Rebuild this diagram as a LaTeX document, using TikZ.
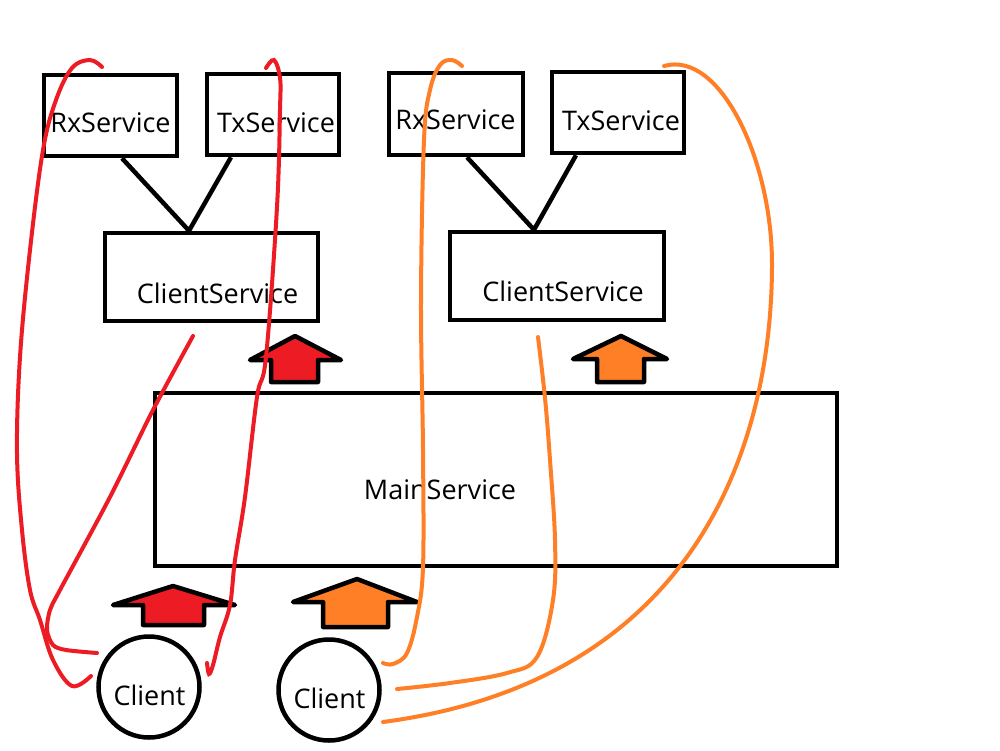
\documentclass[tikz,border=0pt]{standalone}
\usepackage{fontspec}
\setmainfont{Open Sans}
\usetikzlibrary{calc}
\definecolor{paintred}{HTML}{ED1C24}
\definecolor{paintorange}{HTML}{FF7F27}
\tikzset{
  svcbox/.style={draw=black, line width=4.5pt, inner sep=0pt},
  svctext/.style={anchor=base, inner sep=0pt, font=\fontsize{27}{32}\selectfont},
  clientnode/.style={draw=black, circle, line width=4.5pt, inner sep=0pt, minimum size=101pt},
  link/.style={draw=black, line width=4.5pt},
  upblock/.style={draw=black, line width=4.5pt, line join=round},
  redtrace/.style={draw=paintred, line width=4pt, line cap=round},
  orangetrace/.style={draw=paintorange, line width=4pt, line cap=round}
}
\begin{document}
\begin{tikzpicture}[x=1pt, y=-1pt]
    \useasboundingbox[fill=white] (0,0) rectangle (1000,750);
    % left group
    \node[svcbox, minimum width=133pt, minimum height=81pt] (lrx) at (110.5,115.5) {};
    \node[svcbox, minimum width=132pt, minimum height=81pt] (ltx) at (273,114.5) {};
    \node[svcbox, minimum width=213pt, minimum height=88pt] (lcs) at (211.5,277) {};
    \node[svctext] (lrxtext) at (110.5,132) {RxService};
    \node[svctext] (ltxtext) at (276,132) {TxService};
    \node[svctext] (lcstext) at (217.5,303) {ClientService};
    \draw[link] ([xshift=11.5pt]lrx.south) -- ([xshift=-22.5pt]lcs.north) -- ([xshift=-42pt]ltx.south);
    % right group
    \node[svcbox, minimum width=134pt, minimum height=82pt] (rrx) at (456,114) {};
    \node[svcbox, minimum width=132pt, minimum height=81pt] (rtx) at (618,112.5) {};
    \node[svcbox, minimum width=214pt, minimum height=88pt] (rcs) at (557,276) {};
    \node[svctext] (rrxtext) at (455.5,129) {RxService};
    \node[svctext] (rtxtext) at (621,130) {TxService};
    \node[svctext] (rcstext) at (563,301) {ClientService};
    \draw[link] ([xshift=11pt]rrx.south) -- ([xshift=-23pt]rcs.north) -- ([xshift=-42pt]rtx.south);
    % main service
    \node[svcbox, minimum width=682pt, minimum height=173pt] (main) at (496,479.5) {};
    \node[svctext] (maintext) at (440,499) {MainService};
    % clients
    \node[clientnode] (lclient) at (149,687) {};
    \node[clientnode] (rclient) at (329,690) {};
    \node[svctext] (lclienttext) at (149.5,705) {Client};
    \node[svctext] (rclienttext) at (329.5,708) {Client};
    % block arrows
    \draw[upblock, fill=paintred] (250,360) -- (295,336) -- (341,360) -- (318,360) -- (318,382) -- (271,382) -- (271,360) -- cycle;
    \draw[upblock, fill=paintorange] (573,359) -- (621,336) -- (667,359) -- (644,359) -- (644,382) -- (597,382) -- (597,359) -- cycle;
    \draw[upblock, fill=paintred] (113,605) -- (173,586) -- (235,605) -- (204,605) -- (204,625) -- (143,625) -- (143,605) -- cycle;
    \draw[upblock, fill=paintorange] (293,602) -- (357,579) -- (417,602) -- (388,602) -- (388,627) -- (323,627) -- (323,602) -- cycle;
    % red traces
    \draw[redtrace] plot[smooth, tension=0.6] coordinates {(102,67) (90,60) (72,68) (56,100) (43,150) (30,250) (20,357) (17,453) (22,530) (30,590) (40,620) (53,660) (72,686) (91,676)};
    \draw[redtrace] plot[smooth, tension=0.5] coordinates {(193,336) (153,410) (110,497) (60,590) (50,610) (47,630) (53,645) (66,650) (97,653)};
    \draw[redtrace] plot[smooth, tension=0.6] coordinates {(266,68) (274,60) (280,78) (280,110) (277,207) (266,357) (257,397) (245,497) (235,560) (230,605) (220,637) (213,665) (209,674) (207,663)};
    % orange traces
    \draw[orangetrace] plot[smooth, tension=0.6] coordinates {(462,66) (452,60) (440,65) (430,90) (424,140) (421,300) (423,450) (423,567) (417,617) (407,653) (393,664) (383,663)};
    \draw[orangetrace] plot[smooth, tension=0.6] coordinates {(538,337) (545,398) (550,460) (555,540) (553,600) (537,657) (507,673) (450,683) (397,689)};
    \draw[orangetrace] (664,66) .. controls (720,50) and (772,160) .. (772,264)
        .. controls (772,440) and (700,680) .. (383,722);
\end{tikzpicture}
\end{document}
